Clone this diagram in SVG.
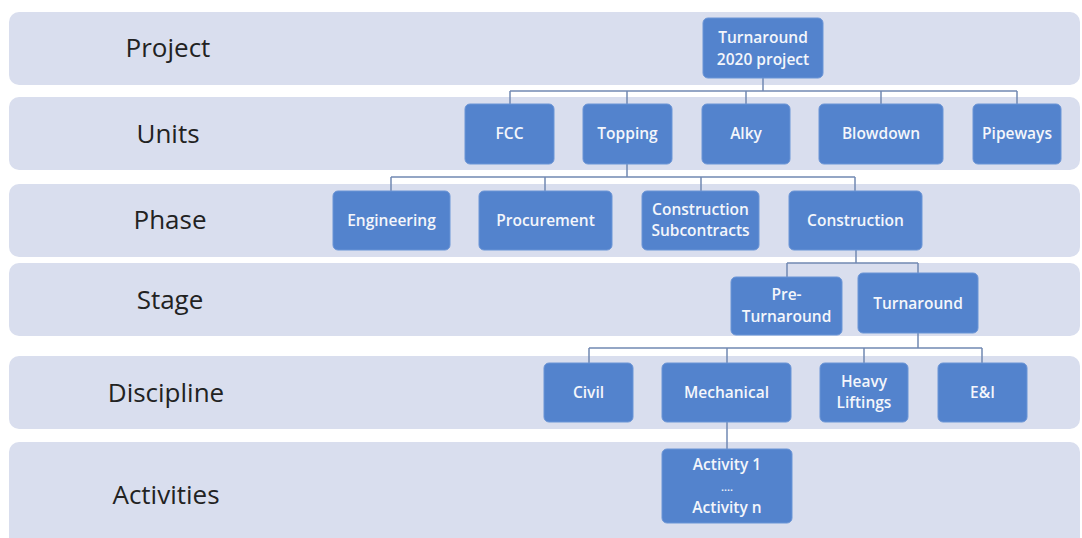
<svg xmlns="http://www.w3.org/2000/svg" width="1082" height="538" viewBox="0 0 1082 538">
  <style>
    .band { fill: #D9DEEE; }
    .lvl { font-family: "Open Sans", "Noto Sans", "DejaVu Sans", sans-serif; font-size: 26px; fill: #222222; text-anchor: middle; }
    .box { fill: #5383CD; stroke: #6B95D6; stroke-width: 1; }
    .lbl { font-family: "Open Sans", "Noto Sans", "DejaVu Sans", sans-serif; font-size: 15.5px; font-weight: 600; fill: #F4F6FB; text-anchor: middle; }
    .dots { font-size: 11px; }
    .wire { fill: none; stroke: #7189B3; stroke-width: 1.5; }
  </style>

  <rect width="1082" height="538" fill="#FFFFFF"/>

  <!-- level bands with their titles -->
  <g id="bands">
    <rect class="band" x="9" y="12" width="1071" height="73" rx="10"/>
    <rect class="band" x="9" y="97" width="1071" height="73" rx="10"/>
    <rect class="band" x="9" y="184" width="1071" height="73" rx="10"/>
    <rect class="band" x="9" y="263" width="1071" height="73" rx="10"/>
    <rect class="band" x="9" y="356" width="1071" height="73" rx="10"/>
    <rect class="band" x="9" y="442" width="1071" height="110" rx="10"/>
    <text class="lvl" x="168" y="57">Project</text>
    <text class="lvl" x="168" y="143">Units</text>
    <text class="lvl" x="170" y="229">Phase</text>
    <text class="lvl" x="170" y="309">Stage</text>
    <text class="lvl" x="166" y="402">Discipline</text>
    <text class="lvl" x="166" y="504">Activities</text>
  </g>

  <!-- tree connectors -->
  <g id="connectors" class="wire">
    <path d="M763 78 V91 M510 91 H1017 M510 91 V104 M627 91 V104 M746 91 V104 M881 91 V104 M1017 91 V104"/>
    <path d="M627 164 V177 M391 177 H855 M391 177 V191 M545 177 V191 M701 177 V191 M855 177 V191"/>
    <path d="M856 250 V263 M787 263 H918 M787 263 V277 M918 263 V273"/>
    <path d="M918 333 V348 M589 348 H982 M589 348 V363 M727 348 V363 M864 348 V363 M982 348 V363"/>
    <path d="M727 422 V449"/>
  </g>

  <g id="n-project">
    <rect class="box" x="703" y="18" width="120" height="60" rx="5"/>
    <text class="lbl" x="763" y="43">Turnaround</text>
    <text class="lbl" x="763" y="65">2020 project</text>
  </g>

  <g id="n-fcc">
    <rect class="box" x="465" y="104" width="89" height="60" rx="5"/>
    <text class="lbl" x="509.5" y="139">FCC</text>
  </g>
  <g id="n-topping">
    <rect class="box" x="583" y="104" width="89" height="60" rx="5"/>
    <text class="lbl" x="627.5" y="139">Topping</text>
  </g>
  <g id="n-alky">
    <rect class="box" x="702" y="104" width="88" height="60" rx="5"/>
    <text class="lbl" x="746" y="139">Alky</text>
  </g>
  <g id="n-blowdown">
    <rect class="box" x="819" y="104" width="124" height="60" rx="5"/>
    <text class="lbl" x="881" y="139">Blowdown</text>
  </g>
  <g id="n-pipeways">
    <rect class="box" x="973" y="104" width="88" height="60" rx="5"/>
    <text class="lbl" x="1017" y="139">Pipeways</text>
  </g>

  <g id="n-engineering">
    <rect class="box" x="333" y="191" width="117" height="59" rx="5"/>
    <text class="lbl" x="391.5" y="226">Engineering</text>
  </g>
  <g id="n-procurement">
    <rect class="box" x="479" y="191" width="133" height="59" rx="5"/>
    <text class="lbl" x="545.5" y="226">Procurement</text>
  </g>
  <g id="n-subcontracts">
    <rect class="box" x="642" y="191" width="117" height="59" rx="5"/>
    <text class="lbl" x="700.5" y="215">Construction</text>
    <text class="lbl" x="700.5" y="236">Subcontracts</text>
  </g>
  <g id="n-construction">
    <rect class="box" x="789" y="191" width="133" height="59" rx="5"/>
    <text class="lbl" x="855.5" y="226">Construction</text>
  </g>

  <g id="n-preturnaround">
    <rect class="box" x="731" y="277" width="111" height="58" rx="5"/>
    <text class="lbl" x="786.5" y="300">Pre-</text>
    <text class="lbl" x="786.5" y="322">Turnaround</text>
  </g>
  <g id="n-turnaround">
    <rect class="box" x="858" y="273" width="120" height="60" rx="5"/>
    <text class="lbl" x="918" y="309">Turnaround</text>
  </g>

  <g id="n-civil">
    <rect class="box" x="544" y="363" width="89" height="59" rx="5"/>
    <text class="lbl" x="588.5" y="398">Civil</text>
  </g>
  <g id="n-mechanical">
    <rect class="box" x="662" y="363" width="129" height="59" rx="5"/>
    <text class="lbl" x="726.5" y="398">Mechanical</text>
  </g>
  <g id="n-heavy">
    <rect class="box" x="820" y="363" width="88" height="59" rx="5"/>
    <text class="lbl" x="864" y="387">Heavy</text>
    <text class="lbl" x="864" y="408">Liftings</text>
  </g>
  <g id="n-ei">
    <rect class="box" x="938" y="363" width="89" height="59" rx="5"/>
    <text class="lbl" x="982.5" y="398">E&amp;I</text>
  </g>

  <g id="n-activities">
    <rect class="box" x="662" y="449" width="130" height="74" rx="5"/>
    <text class="lbl" x="727" y="470">Activity 1</text>
    <text class="lbl dots" x="727" y="491">....</text>
    <text class="lbl" x="727" y="513">Activity n</text>
  </g>
</svg>
